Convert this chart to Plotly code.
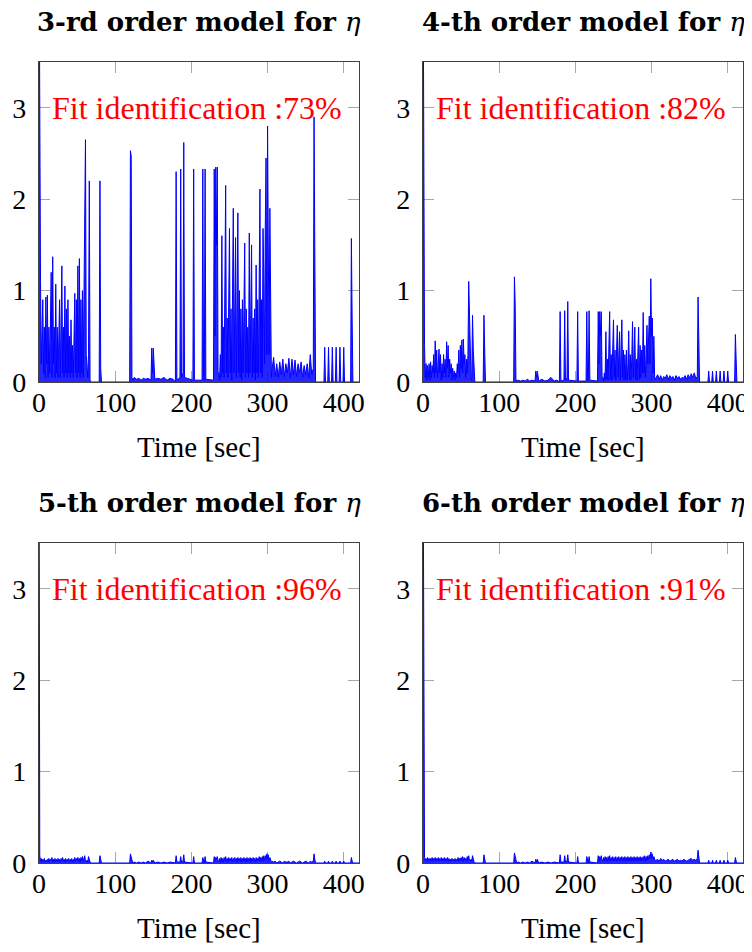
import plotly.graph_objects as go
from plotly.subplots import make_subplots

# sample times [sec], shared by the four model outputs
time_s = [
    0, 1, 2, 3, 4, 5, 6, 7, 8, 9,
    10, 11, 12, 13, 14, 15, 16, 17, 18, 19,
    20, 21, 22, 23, 24, 25, 26, 27, 28, 29,
    30, 31, 32, 33, 34, 35, 36, 37, 38, 39,
    40, 41, 42, 43, 44, 45, 46, 47, 48, 49,
    50, 51, 52, 53, 54, 55, 56, 57, 58, 59,
    60, 61, 62, 63, 64, 65, 66,
    67, 68, 79, 80, 81, 82, 84, 119,
    120, 121, 122, 123,
    125, 128, 131, 134, 137, 140, 143, 147, 148, 149,
    150, 151, 152, 156, 160, 164, 168, 172, 176,
    179, 180, 181, 185, 186, 187, 189, 190, 191, 202,
    203, 204, 214, 215, 216, 217, 218, 219, 229, 230,
    231, 232, 233, 234, 235,
    236, 237, 238, 239, 240, 241, 242, 243, 244, 245,
    246, 247, 248, 249, 250, 251, 252, 253, 254, 255,
    256, 257, 258, 259, 260, 261, 262, 263, 264, 265,
    266, 267, 268, 269, 270, 271, 272, 273, 274, 275,
    276, 277, 278, 279, 280, 281, 282, 283, 284, 285,
    286, 287, 288, 289, 290, 291, 292, 293, 294, 295,
    296, 297, 298, 299, 300, 301, 302, 303, 304, 305,
    306, 308, 310, 312, 314, 316, 318, 320, 322, 324,
    326, 328, 330, 332, 334, 336, 338, 340, 342, 344,
    346, 348, 350, 352, 354, 356, 358, 360,
    361, 362, 363,
    374, 375, 376, 379, 380, 381, 384, 385, 386, 389,
    390, 391, 394, 395, 396, 399, 400, 401,
    409, 410, 411, 412, 420,
]

eta_3rd = [
    5.0, 2.55, 1.1, 0.2, 0.6, 0.9, 0.1, 0.6, 0.05, 0.93,
    0.2, 0.95, 0.05, 0.6, 0.1, 0.8, 1.2, 0.05, 1.37, 0.2,
    0.6, 0.05, 1.07, 0.1, 0.6, 0.05, 0.6, 0.9, 0.05, 1.0,
    1.27, 0.1, 0.6, 0.05, 1.05, 0.1, 0.8, 0.05, 0.9, 0.1,
    0.5, 0.05, 0.68, 0.1, 0.4, 0.05, 0.6, 0.97, 0.1, 0.9,
    0.05, 1.27, 0.1, 1.35, 0.05, 0.9, 0.1, 1.0, 0.05, 0.9,
    1.73, 2.65, 0.3, 0.1, 0.05, 0.3, 2.2,
    0.02, 0.0, 0.0, 2.2, 0.15, 0.0, 0.0, 0.0,
    2.53, 2.47, 0.05, 0.02,
    0.05, 0.03, 0.04, 0.02, 0.04, 0.03, 0.04, 0.02, 0.37, 0.1,
    0.37, 0.05, 0.03, 0.04, 0.03, 0.05, 0.02, 0.04, 0.03,
    0.0, 2.3, 0.02, 0.05, 2.33, 0.05, 0.1, 2.62, 0.05, 0.02,
    2.33, 0.02, 0.02, 2.33, 0.05, 0.02, 2.33, 0.03, 0.02, 2.33,
    0.5, 2.35, 1.5, 2.35, 0.1,
    0.1, 0.02, 0.3, 0.05, 1.6, 0.1, 0.6, 0.05, 0.9, 2.15,
    0.1, 0.7, 0.05, 1.1, 1.68, 0.1, 0.8, 0.02, 1.2, 1.9,
    0.1, 0.9, 1.58, 0.05, 0.7, 1.85, 0.1, 1.0, 0.05, 0.8,
    0.02, 0.9, 0.1, 0.6, 1.52, 0.05, 0.8, 0.1, 0.6, 0.05,
    1.63, 0.1, 0.9, 1.5, 0.05, 0.7, 0.1, 0.8, 0.02, 1.28,
    0.1, 0.9, 0.05, 1.0, 2.11, 0.1, 0.9, 0.05, 1.68, 1.2,
    0.2, 1.7, 2.45, 0.3, 2.8, 1.4, 0.3, 1.9, 0.2, 0.05,
    0.15, 0.27, 0.06, 0.2, 0.05, 0.22, 0.08, 0.25, 0.06, 0.2,
    0.1, 0.26, 0.05, 0.25, 0.08, 0.24, 0.06, 0.2, 0.1, 0.22,
    0.05, 0.18, 0.08, 0.2, 0.05, 0.3, 0.08, 0.15,
    2.9, 0.05, 0.0,
    0.0, 0.38, 0.0, 0.0, 0.38, 0.0, 0.0, 0.38, 0.0, 0.0,
    0.38, 0.0, 0.0, 0.38, 0.0, 0.0, 0.38, 0.0,
    0.0, 1.57, 0.7, 0.0, 0.0,
]

eta_4th = [
    5.0, 2.35, 0.4, 0.05, 0.2, 0.02, 0.18, 0.05, 0.2, 0.02,
    0.22, 0.05, 0.18, 0.1, 0.3, 0.05, 0.45, 0.1, 0.35, 0.05,
    0.25, 0.36, 0.1, 0.3, 0.02, 0.2, 0.05, 0.3, 0.1, 0.25,
    0.05, 0.44, 0.15, 0.4, 0.05, 0.25, 0.1, 0.2, 0.02, 0.15,
    0.05, 0.12, 0.02, 0.1, 0.05, 0.2, 0.1, 0.35, 0.05, 0.4,
    0.15, 0.46, 0.1, 0.47, 0.2, 0.3, 0.05, 0.25, 0.1, 0.3,
    1.1, 0.6, 0.15, 0.05, 0.02, 0.73, 0.35,
    0.02, 0.0, 0.0, 0.73, 0.35, 0.0, 0.0, 0.0,
    1.15, 0.85, 0.03, 0.01,
    0.02, 0.01, 0.02, 0.01, 0.03, 0.01, 0.02, 0.01, 0.12, 0.05,
    0.12, 0.03, 0.01, 0.03, 0.01, 0.02, 0.05, 0.01, 0.02,
    0.0, 0.77, 0.01, 0.02, 0.78, 0.02, 0.05, 0.88, 0.02, 0.01,
    0.77, 0.01, 0.01, 0.77, 0.02, 0.01, 0.78, 0.02, 0.01, 0.77,
    0.2, 0.77, 0.5, 0.77, 0.05,
    0.05, 0.01, 0.1, 0.02, 0.55, 0.03, 0.25, 0.02, 0.3, 0.77,
    0.03, 0.3, 0.02, 0.4, 0.68, 0.05, 0.35, 0.02, 0.45, 0.62,
    0.05, 0.3, 0.55, 0.02, 0.3, 0.68, 0.05, 0.35, 0.02, 0.3,
    0.03, 0.35, 0.02, 0.2, 0.56, 0.03, 0.3, 0.02, 0.25, 0.66,
    0.05, 0.3, 0.6, 0.03, 0.25, 0.02, 0.3, 0.6, 0.03, 0.4,
    0.05, 0.35, 0.1, 0.76, 0.1, 0.4, 0.05, 0.45, 0.62, 0.2,
    0.55, 0.72, 0.2, 1.13, 0.5, 0.7, 0.1, 0.5, 0.05, 0.03,
    0.05, 0.08, 0.03, 0.07, 0.02, 0.06, 0.04, 0.08, 0.03, 0.07,
    0.04, 0.06, 0.02, 0.07, 0.04, 0.06, 0.03, 0.05, 0.04, 0.07,
    0.03, 0.08, 0.04, 0.09, 0.05, 0.1, 0.04, 0.06,
    0.93, 0.55, 0.0,
    0.0, 0.12, 0.0, 0.0, 0.12, 0.0, 0.0, 0.12, 0.0, 0.0,
    0.12, 0.0, 0.0, 0.12, 0.0, 0.0, 0.12, 0.0,
    0.0, 0.52, 0.25, 0.0, 0.0,
]

eta_5th = [
    5.0, 0.08, 0.02, 0.05, 0.01, 0.04, 0.02, 0.05, 0.01, 0.03,
    0.02, 0.04, 0.01, 0.05, 0.02, 0.04, 0.03, 0.06, 0.01, 0.04,
    0.02, 0.05, 0.01, 0.04, 0.02, 0.05, 0.02, 0.04, 0.01, 0.05,
    0.03, 0.06, 0.02, 0.04, 0.01, 0.05, 0.02, 0.04, 0.02, 0.05,
    0.01, 0.04, 0.02, 0.05, 0.01, 0.04, 0.02, 0.06, 0.02, 0.05,
    0.03, 0.06, 0.02, 0.05, 0.01, 0.06, 0.03, 0.07, 0.02, 0.06,
    0.08, 0.02, 0.01, 0.03, 0.01, 0.07, 0.02,
    0.01, 0.0, 0.0, 0.08, 0.03, 0.0, 0.0, 0.0,
    0.1, 0.06, 0.01, 0.0,
    0.01, 0.0, 0.01, 0.0, 0.01, 0.0, 0.02, 0.0, 0.03, 0.01,
    0.03, 0.0, 0.0, 0.01, 0.0, 0.01, 0.0, 0.01, 0.0,
    0.0, 0.08, 0.01, 0.01, 0.07, 0.01, 0.02, 0.09, 0.01, 0.0,
    0.07, 0.0, 0.0, 0.06, 0.01, 0.0, 0.07, 0.01, 0.0, 0.07,
    0.02, 0.06, 0.04, 0.07, 0.02,
    0.02, 0.05, 0.01, 0.06, 0.02, 0.05, 0.01, 0.06, 0.03, 0.07,
    0.02, 0.05, 0.01, 0.06, 0.03, 0.05, 0.02, 0.06, 0.01, 0.05,
    0.03, 0.06, 0.02, 0.05, 0.01, 0.06, 0.03, 0.05, 0.02, 0.06,
    0.01, 0.05, 0.03, 0.06, 0.02, 0.05, 0.01, 0.06, 0.02, 0.05,
    0.03, 0.06, 0.01, 0.05, 0.02, 0.06, 0.03, 0.05, 0.01, 0.06,
    0.02, 0.05, 0.03, 0.07, 0.02, 0.06, 0.03, 0.07, 0.02, 0.08,
    0.03, 0.08, 0.04, 0.1, 0.05, 0.09, 0.03, 0.06, 0.02, 0.01,
    0.02, 0.01, 0.02, 0.0, 0.01, 0.02, 0.01, 0.0, 0.02, 0.01,
    0.01, 0.02, 0.0, 0.01, 0.02, 0.01, 0.0, 0.01, 0.02, 0.01,
    0.0, 0.01, 0.02, 0.01, 0.0, 0.02, 0.01, 0.02,
    0.1, 0.04, 0.0,
    0.0, 0.02, 0.0, 0.0, 0.02, 0.0, 0.0, 0.02, 0.0, 0.0,
    0.02, 0.0, 0.0, 0.02, 0.0, 0.0, 0.02, 0.0,
    0.0, 0.06, 0.02, 0.0, 0.0,
]

eta_6th = [
    5.0, 0.45, 0.06, 0.03, 0.05, 0.02, 0.06, 0.03, 0.05, 0.02,
    0.05, 0.03, 0.06, 0.02, 0.05, 0.03, 0.06, 0.02, 0.05, 0.03,
    0.06, 0.02, 0.05, 0.03, 0.06, 0.02, 0.05, 0.03, 0.06, 0.02,
    0.05, 0.03, 0.06, 0.02, 0.05, 0.02, 0.04, 0.02, 0.05, 0.03,
    0.04, 0.02, 0.05, 0.02, 0.04, 0.03, 0.06, 0.02, 0.05, 0.03,
    0.06, 0.03, 0.07, 0.02, 0.06, 0.03, 0.05, 0.02, 0.07, 0.03,
    0.08, 0.03, 0.02, 0.04, 0.02, 0.08, 0.03,
    0.01, 0.0, 0.0, 0.09, 0.03, 0.0, 0.0, 0.0,
    0.11, 0.06, 0.01, 0.0,
    0.01, 0.0, 0.01, 0.0, 0.01, 0.0, 0.02, 0.0, 0.04, 0.01,
    0.04, 0.0, 0.0, 0.01, 0.0, 0.01, 0.0, 0.01, 0.0,
    0.0, 0.09, 0.01, 0.01, 0.08, 0.01, 0.02, 0.09, 0.01, 0.0,
    0.07, 0.0, 0.0, 0.07, 0.01, 0.0, 0.07, 0.01, 0.0, 0.08,
    0.02, 0.07, 0.04, 0.08, 0.02,
    0.03, 0.06, 0.02, 0.07, 0.03, 0.06, 0.02, 0.07, 0.03, 0.08,
    0.02, 0.06, 0.03, 0.07, 0.02, 0.06, 0.03, 0.07, 0.02, 0.06,
    0.03, 0.07, 0.02, 0.06, 0.03, 0.07, 0.02, 0.06, 0.03, 0.07,
    0.02, 0.06, 0.03, 0.07, 0.02, 0.06, 0.03, 0.07, 0.02, 0.06,
    0.03, 0.07, 0.02, 0.06, 0.03, 0.07, 0.02, 0.06, 0.03, 0.07,
    0.02, 0.06, 0.03, 0.07, 0.03, 0.08, 0.02, 0.07, 0.03, 0.08,
    0.04, 0.09, 0.05, 0.12, 0.06, 0.1, 0.04, 0.07, 0.03, 0.02,
    0.03, 0.04, 0.02, 0.05, 0.03, 0.04, 0.02, 0.03, 0.04, 0.02,
    0.03, 0.04, 0.02, 0.03, 0.04, 0.02, 0.03, 0.02, 0.04, 0.03,
    0.02, 0.03, 0.04, 0.05, 0.03, 0.04, 0.03, 0.05,
    0.14, 0.05, 0.0,
    0.0, 0.03, 0.0, 0.0, 0.03, 0.0, 0.0, 0.03, 0.0, 0.0,
    0.03, 0.0, 0.0, 0.03, 0.0, 0.0, 0.03, 0.0,
    0.0, 0.06, 0.02, 0.0, 0.0,
]

orders = ["3-rd", "4-th", "5-th", "6-th"]
fit_pct = [73, 82, 96, 91]
x_ticks = [0, 100, 200, 300, 400]
y_ticks = [0, 1, 2, 3]

series = [eta_3rd, eta_4th, eta_5th, eta_6th]
for s in series:
    assert len(s) == len(time_s), len(s)

# the page puts an 8 px body margin round the figure
W, H = 744, 936
OFF = 8
# plot boxes in page pixels: (left, right, top, bottom)
boxes = [(39, 359, 62, 382), (423, 743, 62, 382),
         (39, 359, 543, 863), (423, 743, 543, 863)]

serif = "Liberation Serif"


def px(x):
    return (x - OFF) / W


def py(y):
    return 1 - (y - OFF) / H


fig = make_subplots(rows=2, cols=2)

for i, vals in enumerate(series):
    fig.add_trace(go.Scatter(
        x=time_s, y=vals, mode="lines",
        line=dict(color="#0000ff", width=1),
        fill="tozeroy", fillcolor="rgba(0,0,255,0.85)",
        showlegend=False, hoverinfo="skip"
    ), row=i // 2 + 1, col=i % 2 + 1)

axis_style = dict(
    showgrid=False, zeroline=False, automargin=False,
    showline=True, linecolor="#404040", linewidth=1.2, mirror="allticks",
    ticks="inside", ticklen=11, tickwidth=1, tickcolor="#a8a8a8",
    tickfont=dict(family=serif, size=28, color="black"),
    layer="below traces",
)

annotations = []
for i, (l, r, t, b) in enumerate(boxes):
    n = "" if i == 0 else str(i + 1)
    fig.layout["xaxis" + n].update(
        domain=[px(l), px(r)], range=[0, 420], tickvals=x_ticks,
        ticklabelstandoff=-5, **axis_style)
    fig.layout["yaxis" + n].update(
        domain=[py(b), py(t)], range=[0, 3.5], tickvals=y_ticks,
        ticklabelstandoff=6, **axis_style)

    cx = px((l + r) / 2)
    annotations.append(dict(
        text="<b>" + orders[i] + " order model for </b><i>η</i>",
        xref="paper", yref="paper", x=cx, y=py(t - 40),
        xanchor="center", yanchor="middle", showarrow=False,
        font=dict(family="DejaVu Serif", size=26, color="black")))
    annotations.append(dict(
        text="Fit identification :" + str(fit_pct[i]) + "%",
        xref="x" + n, yref="y" + n, x=207, y=3,
        xanchor="center", yanchor="middle", showarrow=False,
        font=dict(family=serif, size=32, color="#ff0000")))
    annotations.append(dict(
        text="Time [sec]",
        xref="paper", yref="paper", x=cx, y=py(b + 65),
        xanchor="center", yanchor="middle", showarrow=False,
        font=dict(family=serif, size=29, color="black")))

fig.update_layout(
    width=W, height=H,
    margin=dict(l=0, r=0, t=0, b=0),
    paper_bgcolor="white", plot_bgcolor="white",
    annotations=annotations,
)

fig.write_html("out.html")
